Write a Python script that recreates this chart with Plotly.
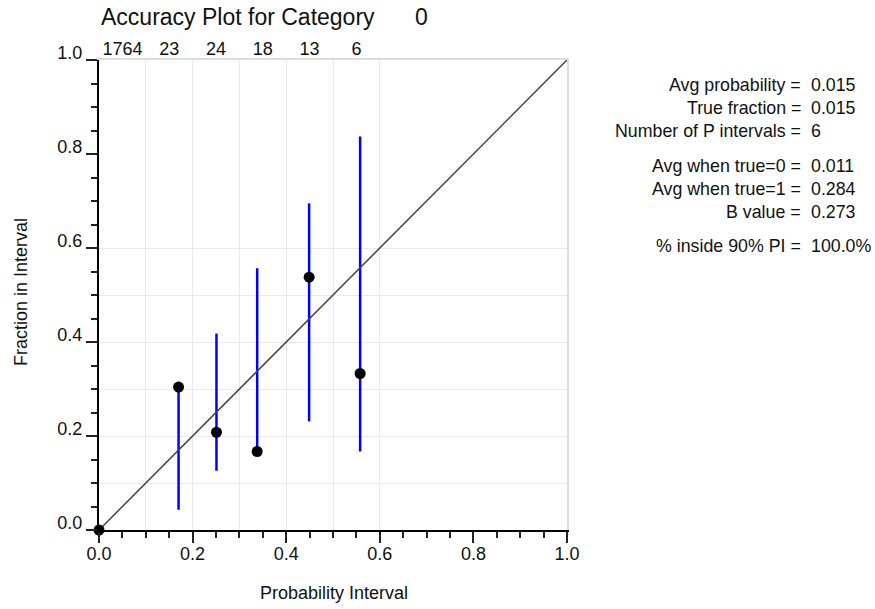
import plotly.graph_objects as go

# ---- data ----
interval_edges = [0.0, 0.1, 0.2, 0.3, 0.4, 0.5, 0.6]
interval_counts = [1764, 23, 24, 18, 13, 6]
avg_prob = [0.0, 0.170, 0.251, 0.338, 0.449, 0.558]
frac_true = [0.0, 0.304, 0.208, 0.167, 0.538, 0.333]
pi_low = [None, 0.043, 0.126, 0.167, 0.231, 0.167]
pi_high = [None, 0.305, 0.418, 0.557, 0.695, 0.837]
diag = [0.0, 1.0]
major_ticks = [0.0, 0.2, 0.4, 0.6, 0.8, 1.0]
grid_vals = [0.1, 0.2, 0.3, 0.4, 0.5, 0.6]

stat_labels = ["Avg probability =", "True fraction =", "Number of P intervals =",
               "Avg when true=0 =", "Avg when true=1 =", "B value =",
               "% inside 90% PI ="]
stat_values = ["0.015", "0.015", "6", "0.011", "0.284", "0.273", "100.0%"]
stat_ypix = [85, 108, 131, 166, 189, 212, 246]

title_text = "Accuracy Plot for Category"
category = "0"

FONT = "Liberation Sans, Arial, sans-serif"
TXT = "#111111"

# plot area geometry (pixels)
L, R, T, B = 99, 308, 60, 79
W, H = 875, 609
PW = W - L - R
PH = H - T - B


def px_x(p):
    return (p - L) / PW


def px_y(p):
    return (H - B - p) / PH


centers = [(a + b) / 2 for a, b in zip(interval_edges[:-1], interval_edges[1:])]

# vertical prediction-interval segments
seg_x, seg_y = [], []
for p, lo, hi in zip(avg_prob, pi_low, pi_high):
    if lo is None:
        continue
    seg_x += [p, p, None]
    seg_y += [lo, hi, None]

fig = go.Figure()
# helper traces so that the overlay axes (grid, top counts) get drawn
fig.add_trace(go.Scatter(x=[None], y=[None], xaxis="x2", yaxis="y2",
                         mode="markers", hoverinfo="skip", showlegend=False))
fig.add_trace(go.Scatter(x=centers, y=[None] * len(centers), xaxis="x3",
                         yaxis="y", mode="markers", hoverinfo="skip",
                         showlegend=False))
fig.add_trace(go.Scatter(x=seg_x, y=seg_y, mode="lines",
                         line=dict(color="#0000ff", width=2.5),
                         hoverinfo="skip", showlegend=False))
fig.add_trace(go.Scatter(x=diag, y=diag, mode="lines",
                         line=dict(color="#444444", width=1.5),
                         hoverinfo="skip", showlegend=False))
fig.add_trace(go.Scatter(x=avg_prob, y=frac_true, mode="markers",
                         marker=dict(color="black", size=11),
                         cliponaxis=False, showlegend=False))

axis_common = dict(
    range=[0, 1], tickvals=major_ticks,
    ticktext=[f"{v:.1f}" for v in major_ticks],
    ticks="outside", ticklen=11, tickwidth=1.5, tickcolor="#222222",
    showline=True, linecolor="black", linewidth=2,
    showgrid=False, zeroline=False,
    tickfont=dict(family=FONT, size=18, color=TXT),
    minor=dict(dtick=0.05, tick0=0, ticks="outside", ticklen=6,
               tickwidth=1.5, tickcolor="#222222", showgrid=False),
    fixedrange=True,
)

fig.update_layout(
    width=W, height=H,
    margin=dict(l=L, r=R, t=T, b=B, pad=0),
    paper_bgcolor="white", plot_bgcolor="white",
    font=dict(family=FONT, size=18, color=TXT),
    showlegend=False,
    xaxis=dict(**axis_common, layer="above traces", ticklabelstandoff=-5),
    yaxis=dict(**axis_common, ticklabelshift=-7, layer="above traces"),
    xaxis2=dict(overlaying="x", side="top", anchor="y2", range=[0, 1],
                tickvals=grid_vals, showticklabels=False, ticks="",
                showgrid=True, gridcolor="#e9e9e9", gridwidth=1,
                showline=True, linecolor="#dddddd", linewidth=2,
                zeroline=False, fixedrange=True),
    yaxis2=dict(overlaying="y", side="right", anchor="x2", range=[0, 1],
                tickvals=grid_vals, showticklabels=False, ticks="",
                showgrid=True, gridcolor="#e9e9e9", gridwidth=1,
                showline=True, linecolor="#dddddd", linewidth=2,
                zeroline=False, fixedrange=True),
    xaxis3=dict(overlaying="x", side="top", anchor="y", range=[0, 1],
                tickvals=centers, ticktext=[str(c) for c in interval_counts],
                ticks="", showgrid=False, showline=False, zeroline=False,
                tickfont=dict(family=FONT, size=18, color=TXT),
                fixedrange=True),
)

annotations = [
    dict(text=title_text, xref="paper", yref="paper", x=px_x(99), y=px_y(17),
         xanchor="left", yanchor="middle", showarrow=False,
         font=dict(family=FONT, size=23, color=TXT)),
    dict(text=category, xref="paper", yref="paper", x=px_x(421), y=px_y(17),
         xanchor="center", yanchor="middle", showarrow=False,
         font=dict(family=FONT, size=23, color=TXT)),
    dict(text="Probability Interval", xref="paper", yref="paper",
         x=px_x(334), y=px_y(593), xanchor="center", yanchor="middle",
         showarrow=False, font=dict(family=FONT, size=18, color=TXT)),
    dict(text="Fraction in Interval", xref="paper", yref="paper",
         x=px_x(21), y=px_y(292), xanchor="center", yanchor="middle",
         textangle=-90, showarrow=False,
         font=dict(family=FONT, size=18, color=TXT)),
]
for lab, val, yp in zip(stat_labels, stat_values, stat_ypix):
    annotations.append(dict(text=lab, xref="paper", yref="paper",
                            x=px_x(803), y=px_y(yp), xanchor="right",
                            yanchor="middle", showarrow=False,
                            font=dict(family=FONT, size=17.8, color=TXT)))
    annotations.append(dict(text=val, xref="paper", yref="paper",
                            x=px_x(809), y=px_y(yp), xanchor="left",
                            yanchor="middle", showarrow=False,
                            font=dict(family=FONT, size=17.8, color=TXT)))
fig.update_layout(annotations=annotations)

fig.write_html(
    "out.html",
    config={"displayModeBar": False},
    post_script="document.body.style.margin='0';document.body.style.padding='0';"
                "window.dispatchEvent(new Event('resize'));",
)
